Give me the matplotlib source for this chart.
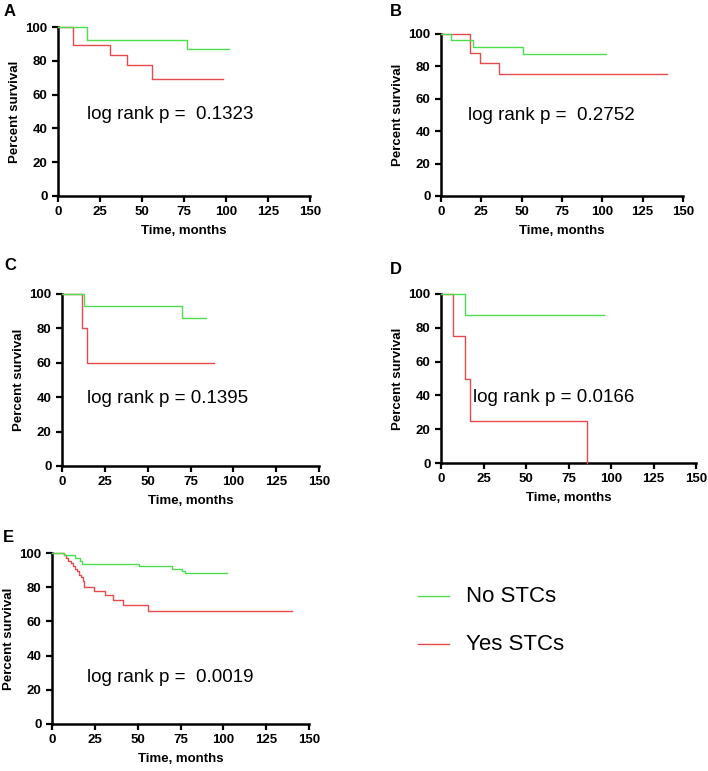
import matplotlib
matplotlib.use("Agg")
import matplotlib.pyplot as plt
import numpy as np

plt.rcParams['font.family'] = ['Liberation Sans', 'DejaVu Sans']

GREEN = '#4ddd4d'
RED = '#e8494b'

# ---- data (time in months, percent survival after each step) ----
A_no_t = [0, 17, 77, 102]
A_no_s = [100, 92.3, 87.2, 87.2]
A_yes_t = [0, 9, 31, 41, 56, 98]
A_yes_s = [100, 89.5, 83.6, 77.3, 69.4, 69.4]

B_no_t = [0, 6, 20, 51, 102]
B_no_s = [100, 96.0, 92.0, 87.6, 87.6]
B_yes_t = [0, 18, 24, 36, 140]
B_yes_s = [100, 88.2, 82.4, 75.3, 75.3]

C_no_t = [0, 12.7, 70, 84]
C_no_s = [100, 93.3, 86.1, 86.1]
C_yes_t = [0, 11.7, 14.8, 89]
C_yes_s = [100, 80, 60, 60]

D_no_t = [0, 14, 96]
D_no_s = [100, 87.5, 87.5]
D_yes_t = [0, 7, 14, 17, 86, 86]
D_yes_s = [100, 75, 50, 25, 0, 0]

E_no_t = [0, 7, 13.4, 16.4, 17.7, 51, 70, 76, 77.5, 102]
E_no_s = [100, 98.6, 97.1, 95.5, 93.8, 92.2, 90.6, 89.4, 88.1, 88.1]
E_yes_t = [0, 7, 8.2, 9.5, 10.9, 12.1, 13.4, 14.4, 15.8, 16.9, 17.9, 18.9,
           24.3, 31, 35.8, 41.2, 56.2, 140]
E_yes_s = [100, 98.6, 97.1, 95.5, 94.0, 92.2, 90.8, 89.3, 87.4, 85.8, 83.8, 79.9,
           77.6, 75.3, 72.8, 69.8, 66.2, 66.2]

pvals = ['log rank p =  0.1323', 'log rank p =  0.2752', 'log rank p = 0.1395',
         'log rank p = 0.0166', 'log rank p =  0.0019']
letters = ['A', 'B', 'C', 'D', 'E']
xticks = [0, 25, 50, 75, 100, 125, 150]
yticks = [0, 20, 40, 60, 80, 100]
legend_labels = ['No STCs', 'Yes STCs']

W, H = 708, 771
fig = plt.figure(figsize=(W / 100, H / 100), dpi=100)

# pixel boxes: left, right, top, bottom
boxes = [(58, 310, 27, 196), (441, 683, 34, 196), (62, 319, 294, 466),
         (441, 696, 294, 463), (52, 309, 553, 724)]
text_pos = [(17.3, 48), (16.7, 50), (14.6, 39.5), (18.8, 38.5), (20.4, 27.2)]
letter_pos = [(10, 12), (396, 12), (10, 265), (396, 270), (8, 538)]
data = [(A_no_t, A_no_s, A_yes_t, A_yes_s), (B_no_t, B_no_s, B_yes_t, B_yes_s),
        (C_no_t, C_no_s, C_yes_t, C_yes_s), (D_no_t, D_no_s, D_yes_t, D_yes_s),
        (E_no_t, E_no_s, E_yes_t, E_yes_s)]

for i, (l, r, t, b) in enumerate(boxes):
    ax = fig.add_axes([l / W, 1 - b / H, (r - l) / W, (b - t) / H])
    nt, ns, yt, ys = data[i]
    ax.step(yt, ys, where='post', color=RED, lw=1.0, clip_on=False, zorder=3)
    ax.step(nt, ns, where='post', color=GREEN, lw=1.0, clip_on=False, zorder=4)
    ax.set_xlim(0, 150)
    ax.set_ylim(0, 100)
    ax.set_xticks(xticks)
    ax.set_yticks(yticks)
    for s in ['top', 'right']:
        ax.spines[s].set_visible(False)
    for s in ['left', 'bottom']:
        ax.spines[s].set_linewidth(1.8)
    ax.tick_params(width=1.6, length=4.5, labelsize=9.5, pad=3)
    for lab in ax.get_xticklabels() + ax.get_yticklabels():
        lab.set_fontweight('bold')
    ax.set_ylabel('Percent survival', fontsize=9.5, fontweight='bold', labelpad=3)
    ax.set_xlabel('Time, months', fontsize=9.5, fontweight='bold', labelpad=5)
    ax.text(text_pos[i][0], text_pos[i][1], pvals[i], fontsize=13.5,
            ha='left', va='center')
    fig.text(letter_pos[i][0] / W, 1 - letter_pos[i][1] / H, letters[i],
             fontsize=12, fontweight='bold', ha='center', va='center')

# legend
lax = fig.add_axes([0, 0, 1, 1])
lax.set_xlim(0, W)
lax.set_ylim(H, 0)
lax.axis('off')
for k, (col, yy) in enumerate([(GREEN, 596), (RED, 644)]):
    lax.plot([418, 449], [yy, yy], color=col, lw=1.0)
    lax.text(466, yy, legend_labels[k], fontsize=16, ha='left', va='center')

fig.savefig('out.png', dpi=100)
